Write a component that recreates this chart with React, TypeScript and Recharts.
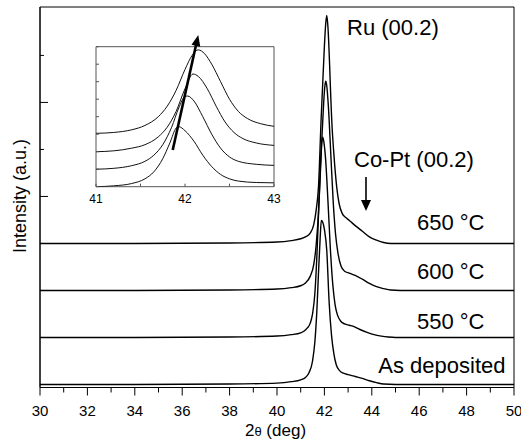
import React from 'react';
import { LineChart, Line, XAxis, YAxis, ReferenceArea, ReferenceLine, Customized } from 'recharts';

const FONT = '"Liberation Sans", Arial, Helvetica, sans-serif';

// ---------- main chart ----------
const X_TICKS = [30, 31, 32, 33, 34, 35, 36, 37, 38, 39, 40, 41, 42, 43, 44, 45, 46, 47, 48, 49, 50];
const Y_TICKS = [0, 1, 2, 3, 4, 5, 6, 7];
const SERIES_NAMES = ['As deposited', '550 °C', '600 °C', '650 °C'];
const OFFSETS = [0, 1, 2, 3];

const AS_DEP_X = [30, 34, 38, 40, 40.6, 41.0, 41.2, 41.35, 41.5, 41.6, 41.68, 41.75, 41.82, 41.87, 41.93, 42.0, 42.1, 42.2, 42.3, 42.4, 42.5, 42.65, 42.8, 43.0, 43.3, 43.6, 43.9, 44.2, 44.5, 45, 47, 50];
const AS_DEP_Y = [0, 0, 0.01, 0.03, 0.06, 0.1, 0.15, 0.25, 0.5, 0.92, 1.55, 2.36, 3.1, 3.49, 3.45, 3.3, 2.85, 1.75, 1.05, 0.65, 0.42, 0.29, 0.24, 0.21, 0.17, 0.13, 0.08, 0.04, 0.01, 0, 0, 0];

const T550_X = [30, 34, 38, 40, 40.6, 41.0, 41.2, 41.4, 41.5, 41.6, 41.68, 41.75, 41.82, 41.88, 41.93, 41.98, 42.05, 42.15, 42.25, 42.35, 42.45, 42.55, 42.7, 42.85, 43.05, 43.2, 43.5, 43.8, 44.1, 44.4, 44.7, 45, 47, 50];
const T550_Y = [0, 0, 0.01, 0.03, 0.06, 0.1, 0.16, 0.3, 0.5, 0.95, 1.7, 2.6, 3.5, 4.1, 4.26, 4.15, 3.8, 2.9, 1.9, 1.15, 0.7, 0.48, 0.34, 0.29, 0.26, 0.24, 0.17, 0.11, 0.06, 0.03, 0.01, 0, 0, 0];

const T600_X = [30, 34, 38, 40, 40.6, 41.0, 41.2, 41.4, 41.55, 41.65, 41.75, 41.83, 41.9, 41.97, 42.02, 42.06, 42.1, 42.17, 42.27, 42.37, 42.47, 42.57, 42.7, 42.85, 43.05, 43.3, 43.6, 43.9, 44.2, 44.5, 44.8, 45.2, 47, 50];
const T600_Y = [0, 0, 0.01, 0.03, 0.06, 0.1, 0.16, 0.3, 0.55, 0.95, 1.65, 2.5, 3.3, 4.0, 4.35, 4.45, 4.35, 3.9, 2.9, 1.9, 1.2, 0.8, 0.52, 0.41, 0.37, 0.32, 0.24, 0.15, 0.08, 0.04, 0.01, 0, 0, 0];

const T650_X = [30, 34, 38, 40, 40.6, 41.0, 41.2, 41.4, 41.55, 41.65, 41.75, 41.86, 41.92, 42.0, 42.06, 42.1, 42.15, 42.22, 42.27, 42.31, 42.4, 42.52, 42.62, 42.75, 42.9, 43.05, 43.3, 43.6, 43.9, 44.2, 44.5, 44.8, 47, 50];
const T650_Y = [0, 0, 0.01, 0.03, 0.06, 0.1, 0.14, 0.22, 0.4, 0.7, 1.2, 2.62, 3.3, 4.2, 4.7, 4.85, 4.6, 3.8, 3.1, 2.62, 1.9, 1.2, 0.85, 0.64, 0.55, 0.49, 0.38, 0.26, 0.14, 0.07, 0.02, 0, 0, 0];

// ---------- inset ----------
const INSET_X_TICKS = [41, 41.5, 42, 42.5, 43];
const INSET_X_LABELS = [41, 42, 43];
const INSET_Y_TICKS = [0, 1, 2, 3, 4, 5, 6, 7, 8];

const IN_A_X = [41.0, 41.2, 41.4, 41.55, 41.65, 41.75, 41.83, 41.9, 41.93, 42.0, 42.1, 42.2, 42.3, 42.4, 42.5, 42.6, 42.8, 43.0];
const IN_A_Y = [0, 0.05, 0.18, 0.45, 0.85, 1.6, 2.5, 3.35, 3.43, 3.2, 2.6, 1.8, 1.15, 0.7, 0.45, 0.32, 0.24, 0.22];
const IN_B_X = [41.0, 41.2, 41.4, 41.55, 41.65, 41.75, 41.85, 41.93, 42.0, 42.03, 42.1, 42.2, 42.3, 42.4, 42.5, 42.6, 42.8, 43.0];
const IN_B_Y = [1.0, 1.05, 1.2, 1.45, 1.8, 2.4, 3.4, 4.5, 5.15, 5.18, 4.9, 4.0, 3.0, 2.2, 1.7, 1.45, 1.28, 1.22];
const IN_C_X = [41.0, 41.2, 41.4, 41.55, 41.7, 41.8, 41.9, 42.0, 42.09, 42.15, 42.25, 42.35, 42.45, 42.55, 42.65, 42.8, 43.0];
const IN_C_Y = [2.0, 2.05, 2.2, 2.4, 2.85, 3.4, 4.3, 5.6, 6.44, 6.3, 5.6, 4.6, 3.7, 3.1, 2.75, 2.5, 2.36];
const IN_D_X = [41.0, 41.2, 41.4, 41.55, 41.7, 41.8, 41.9, 42.0, 42.08, 42.15, 42.22, 42.3, 42.4, 42.5, 42.6, 42.7, 42.85, 43.0];
const IN_D_Y = [3.05, 3.1, 3.25, 3.5, 4.0, 4.6, 5.5, 6.7, 7.5, 7.82, 7.6, 7.0, 6.0, 5.0, 4.3, 3.9, 3.6, 3.45];

const mainSeries = [
  { x: AS_DEP_X, y: AS_DEP_Y },
  { x: T550_X, y: T550_Y },
  { x: T600_X, y: T600_Y },
  { x: T650_X, y: T650_Y },
].map((s, k) => s.x.map((x, i) => ({ x, y: s.y[i] + OFFSETS[k] })));

const insetSeries = [
  { x: IN_A_X, y: IN_A_Y },
  { x: IN_B_X, y: IN_B_Y },
  { x: IN_C_X, y: IN_C_Y },
  { x: IN_D_X, y: IN_D_Y },
].map((s) => s.x.map((x, i) => ({ x, y: s.y[i] })));

const makeArrow = (shaft: number, headLen: number, headW: number) => (props: any) => {
  const { x1, y1, x2, y2 } = props;
  const dx = x2 - x1;
  const dy = y2 - y1;
  const L = Math.hypot(dx, dy) || 1;
  const ux = dx / L;
  const uy = dy / L;
  const bx = x2 - ux * headLen;
  const by = y2 - uy * headLen;
  const px = -uy;
  const py = ux;
  return (
    <g>
      <line x1={x1} y1={y1} x2={bx + ux} y2={by + uy} stroke="#000" strokeWidth={shaft} />
      <polygon
        points={`${x2},${y2} ${bx + (px * headW) / 2},${by + (py * headW) / 2} ${bx - (px * headW) / 2},${by - (py * headW) / 2}`}
        fill="#000"
      />
    </g>
  );
};

const MainXTick = (props: any) => {
  const { x, y, payload } = props;
  const v = payload.value;
  const major = v % 2 === 0;
  return (
    <g>
      <line x1={x} x2={x} y1={y} y2={y + (major ? 8 : 5)} stroke="#000" strokeWidth={1} />
      {major && (
        <text x={x} y={y + 28} textAnchor="middle" fontSize={15} fontFamily={FONT} fill="#000">
          {v}
        </text>
      )}
    </g>
  );
};

const MainYTick = (props: any) => {
  const { x, y, payload } = props;
  const major = payload.value % 2 === 0;
  return <line x1={x} x2={x + (major ? 8 : 4)} y1={y} y2={y} stroke="#000" strokeWidth={1} />;
};

const InsetXTick = (props: any) => {
  const { x, y, payload } = props;
  const v = payload.value;
  const lab = INSET_X_LABELS.includes(v);
  return (
    <g>
      <line x1={x} x2={x} y1={y} y2={y - 3} stroke="#555" strokeWidth={1} />
      {lab && (
        <text x={x} y={y + 16.5} textAnchor="middle" fontSize={12} fontFamily={FONT} fill="#000">
          {v}
        </text>
      )}
    </g>
  );
};

const InsetYTick = (props: any) => {
  const { x, y } = props;
  return <line x1={x} x2={x + 3} y1={y} y2={y} stroke="#555" strokeWidth={1} />;
};

const MainTexts = () => (
  <g fontFamily={FONT} fill="#000">
    <text x={347} y={34.5} fontSize={22}>Ru (00.2)</text>
    <text x={354} y={167} fontSize={22}>Co-Pt (00.2)</text>
    <text x={484.5} y={230} fontSize={22} textAnchor="end">{SERIES_NAMES[3]}</text>
    <text x={484.5} y={278.5} fontSize={22} textAnchor="end">{SERIES_NAMES[2]}</text>
    <text x={484.5} y={328.5} fontSize={22} textAnchor="end">{SERIES_NAMES[1]}</text>
    <text x={505.5} y={372.5} fontSize={22} textAnchor="end">{SERIES_NAMES[0]}</text>
    <text transform="translate(25.5,196) rotate(-90)" textAnchor="middle" fontSize={18}>Intensity (a.u.)</text>
    <text x={275.5} y={436} textAnchor="middle" fontSize={17}>
      2<tspan fontSize={13}>θ</tspan> (deg)
    </text>
  </g>
);

export default function App() {
  return (
    <div style={{ position: 'absolute', left: 0, top: 0, width: 521, height: 445, background: '#fff' }}>
      <LineChart width={521} height={445} margin={{ top: 7, right: 7, bottom: 0, left: 0 }}>
        <XAxis
          dataKey="x"
          type="number"
          domain={[30, 50]}
          ticks={X_TICKS}
          interval={0}
          height={57.5}
          tickSize={0}
          tickMargin={0}
          tickLine={false}
          tick={<MainXTick />}
          axisLine={{ stroke: '#000' }}
          allowDataOverflow
        />
        <YAxis
          type="number"
          domain={[-0.064, 8.03]}
          ticks={Y_TICKS}
          interval={0}
          width={40}
          tickSize={0}
          tickMargin={0}
          tickLine={false}
          tick={<MainYTick />}
          axisLine={{ stroke: '#000' }}
          allowDataOverflow
        />
        <ReferenceArea x1={30} x2={50} y1={-0.064} y2={8.03} fill="none" stroke="#000" strokeWidth={1} ifOverflow="visible" />
        {mainSeries.map((d, i) => (
          <Line
            key={i}
            data={d}
            dataKey="y"
            name={SERIES_NAMES[i]}
            type="monotone"
            stroke="#000"
            strokeWidth={1.4}
            dot={false}
            isAnimationActive={false}
          />
        ))}
        <ReferenceLine
          segment={[{ x: 43.755, y: 4.415 }, { x: 43.755, y: 3.69 }]}
          ifOverflow="visible"
          shape={makeArrow(1.6, 11, 10)}
        />
        <Customized component={MainTexts} />
      </LineChart>
      <div style={{ position: 'absolute', left: 0, top: 0 }}>
        <LineChart width={521} height={445} margin={{ top: 46.7, right: 247, bottom: 238.3, left: 86 }}>
          <XAxis
            dataKey="x"
            type="number"
            domain={[41, 43]}
            ticks={INSET_X_TICKS}
            interval={0}
            height={20}
            tickSize={0}
            tickMargin={0}
            tickLine={false}
            tick={<InsetXTick />}
            axisLine={false}
            allowDataOverflow
          />
          <YAxis
            type="number"
            domain={[0, 8]}
            ticks={INSET_Y_TICKS}
            interval={0}
            width={10}
            tickSize={0}
            tickMargin={0}
            tickLine={false}
            tick={<InsetYTick />}
            axisLine={false}
            allowDataOverflow
          />
          <ReferenceArea x1={41} x2={43} y1={0} y2={8} fill="none" stroke="#555" strokeWidth={1} ifOverflow="visible" />
          {insetSeries.map((d, i) => (
            <Line
              key={i}
              data={d}
              dataKey="y"
              type="monotone"
              stroke="#111"
              strokeWidth={1}
              dot={false}
              isAnimationActive={false}
            />
          ))}
          <ReferenceLine
            segment={[{ x: 41.862, y: 2.1 }, { x: 42.149, y: 8.67 }]}
            ifOverflow="visible"
            shape={makeArrow(2.6, 11, 9)}
          />
        </LineChart>
      </div>
    </div>
  );
}
